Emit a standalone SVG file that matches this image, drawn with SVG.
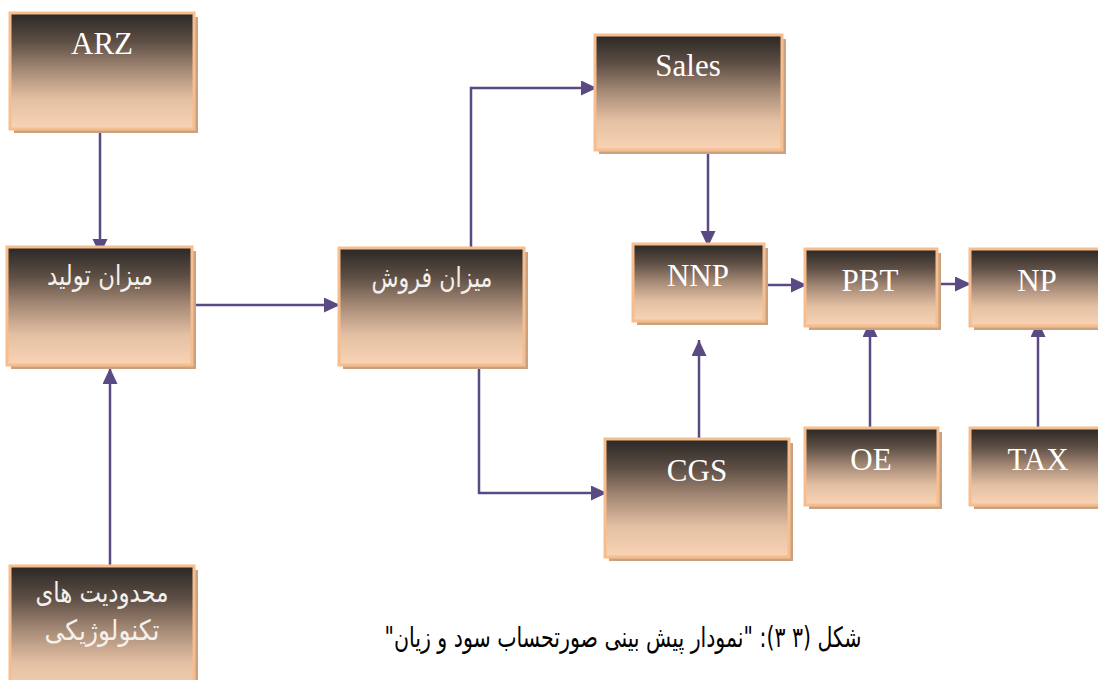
<svg xmlns="http://www.w3.org/2000/svg" width="1098" height="680" viewBox="0 0 1098 680">
  <style>
    .shadow { fill: #c9a283; }
    .box { fill: url(#peach); stroke: #f7bd8c; stroke-width: 3; }
    .lat { font-family: 'Liberation Serif', 'Times New Roman', Times, serif; font-size: 31px; fill: #ffffff; text-anchor: middle; }
    .fa { font-family: 'DejaVu Sans', sans-serif; font-size: 28px; fill: #f4f0ec; text-anchor: middle; direction: rtl; }
    .link { fill: none; stroke: #5a4a84; stroke-width: 2.5; marker-end: url(#arrow); }
    .caption { font-family: 'DejaVu Sans', sans-serif; font-size: 28px; fill: #000000; text-anchor: middle; direction: rtl; }
  </style>
  <defs>
    <linearGradient id="peach" x1="0" y1="0" x2="0" y2="1">
      <stop offset="0" stop-color="#2a2725"/>
      <stop offset="0.25" stop-color="#5e4f45"/>
      <stop offset="0.5" stop-color="#a88c78"/>
      <stop offset="0.75" stop-color="#e5c1a4"/>
      <stop offset="1" stop-color="#f8d3b4"/>
    </linearGradient>
    <marker id="arrow" markerUnits="userSpaceOnUse" markerWidth="17" markerHeight="16" refX="16" refY="7.5" orient="auto">
      <path d="M0,0 L16,7.5 L0,15 z" fill="#5a4a84"/>
    </marker>
  </defs>

  <rect width="1098" height="680" fill="#ffffff"/>

  <!-- connectors -->
  <g id="connectors">
    <path class="link" d="M100,130 V255"/>
    <path class="link" d="M110,566 V368"/>
    <path class="link" d="M192,305 H340"/>
    <path class="link" d="M471,249 V88 H597"/>
    <path class="link" d="M479,363 V493 H607"/>
    <path class="link" d="M708,152 V247"/>
    <path class="link" d="M699,439 V340"/>
    <path class="link" d="M764,285 H807"/>
    <path class="link" d="M937,284 H971"/>
    <path class="link" d="M870,428 V321"/>
    <path class="link" d="M1038,428 V321"/>
  </g>

  <!-- nodes -->
  <g id="node-arz">
    <rect class="shadow" x="14" y="17" width="184" height="116"/>
    <rect class="box" x="10" y="13" width="184" height="116"/>
    <text class="lat" x="102" y="54">ARZ</text>
  </g>

  <g id="node-production">
    <rect class="shadow" x="11" y="251" width="185" height="118"/>
    <rect class="box" x="7" y="247" width="185" height="118"/>
    <text class="fa" x="100" y="285" textLength="106" lengthAdjust="spacingAndGlyphs">ميزان توليد</text>
  </g>

  <g id="node-tech-limits">
    <rect class="shadow" x="14" y="570" width="184" height="130"/>
    <rect class="box" x="10" y="566" width="184" height="130"/>
    <text class="fa" x="102" y="602" textLength="133" lengthAdjust="spacingAndGlyphs">محدودیت های</text>
    <text class="fa" x="102" y="640" textLength="115" lengthAdjust="spacingAndGlyphs">تکنولوژیکی</text>
  </g>

  <g id="node-sales-volume">
    <rect class="shadow" x="343" y="252" width="185" height="117"/>
    <rect class="box" x="339" y="248" width="185" height="117"/>
    <text class="fa" x="432" y="287" textLength="121" lengthAdjust="spacingAndGlyphs">ميزان فروش</text>
  </g>

  <g id="node-sales">
    <rect class="shadow" x="599" y="39" width="187" height="115"/>
    <rect class="box" x="595" y="35" width="187" height="115"/>
    <text class="lat" x="688" y="76">Sales</text>
  </g>

  <g id="node-nnp">
    <rect class="shadow" x="637" y="248" width="131" height="77"/>
    <rect class="box" x="633" y="244" width="131" height="77"/>
    <text class="lat" x="698" y="286">NNP</text>
  </g>

  <g id="node-pbt">
    <rect class="shadow" x="809" y="253" width="132" height="77"/>
    <rect class="box" x="805" y="249" width="132" height="77"/>
    <text class="lat" x="870" y="291">PBT</text>
  </g>

  <g id="node-np">
    <rect class="shadow" x="974" y="253" width="130" height="77"/>
    <rect class="box" x="970" y="249" width="130" height="77"/>
    <text class="lat" x="1037" y="291">NP</text>
  </g>

  <g id="node-cgs">
    <rect class="shadow" x="609" y="443" width="184" height="118"/>
    <rect class="box" x="605" y="439" width="184" height="118"/>
    <text class="lat" x="697" y="481">CGS</text>
  </g>

  <g id="node-oe">
    <rect class="shadow" x="809" y="432" width="133" height="77"/>
    <rect class="box" x="805" y="428" width="133" height="77"/>
    <text class="lat" x="871" y="470">OE</text>
  </g>

  <g id="node-tax">
    <rect class="shadow" x="974" y="432" width="130" height="77"/>
    <rect class="box" x="970" y="428" width="130" height="77"/>
    <text class="lat" x="1038" y="470">TAX</text>
  </g>

  <!-- caption -->
  <text class="caption" x="623" y="647" textLength="477" lengthAdjust="spacingAndGlyphs">شکل (۳ ۳): "نمودار پیش بینی صورتحساب سود و زیان"</text>
</svg>
